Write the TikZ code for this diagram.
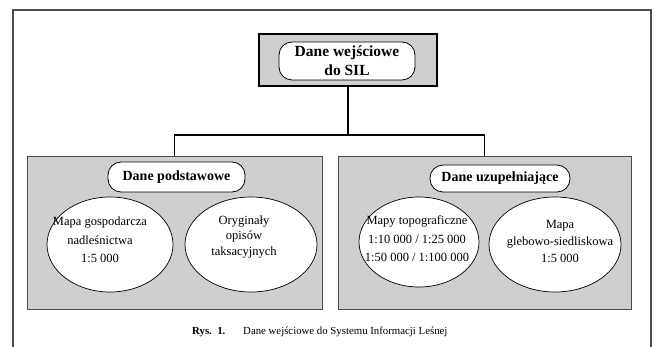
\documentclass[tikz,border=0pt]{standalone}
\usepackage{fontspec}
\setmainfont{Liberation Serif}
\usetikzlibrary{shapes.geometric}
\usetikzlibrary{positioning}
\definecolor{boxgray}{gray}{0.81}
\definecolor{framegray}{gray}{0.3}

\begin{document}
\begin{tikzpicture}[x=1pt,y=-1pt,
    panel/.style={draw=framegray, line width=0.9pt, fill=boxgray, inner sep=0pt},
    pill/.style={draw, line width=0.8pt, fill=white, rounded corners=13pt, align=center, inner sep=0pt,
        font=\fontsize{14}{19}\selectfont\bfseries},
    oval/.style={draw, ellipse, line width=0.7pt, fill=white, inner sep=0pt},
    txt/.style={align=center, inner sep=0pt},
    link/.style={line width=1.8pt}]
    \useasboundingbox (0,0) rectangle (656,347);

    % Outer frame (open at the bottom)
    \draw[framegray, line width=1.2pt] (13,347) -- (13,10) -- (651,10) -- (651,347);

    % Top box
    \node[panel, draw=black, line width=2.4pt, minimum width=178, minimum height=52] (inputs) at (348,60) {};
    \node[pill, minimum width=136, minimum height=38, font=\fontsize{15.5}{19}\selectfont\bfseries] (inputsLabel) at (347,61) {Dane wejściowe\\do SIL};

    % Lower boxes
    \node[panel, minimum width=295, minimum height=153] (basic) at (174.5,232.5) {};
    \node[panel, minimum width=293, minimum height=153] (extra) at (484.5,232.5) {};

    % Connectors
    \coordinate (split) at (348,135);
    \draw[link] (inputs.south) -- (split);
    \draw[link] (basic.north) |- (split) -| (extra.north);

    % Basic data
    \node[pill, minimum width=137, minimum height=30] (basicLabel) at (176.5,177) {Dane podstawowe};
    \node[oval, minimum width=126, minimum height=95] (mapGosp) at (110,244.5) {};
    \node[oval, minimum width=132, minimum height=95] (descr) at (251,244.5) {};
    \node[txt, font=\fontsize{12.5}{18.5}\selectfont] (mapGospText) at (100,240) {Mapa gospodarcza\\nadleśnictwa\\1:5 000};
    \node[txt, font=\fontsize{12.5}{15.5}\selectfont] (descrText) at (244,237) {Oryginały\\opisów\\taksacyjnych};

    % Supplementary data
    \node[pill, minimum width=140, minimum height=27] (extraLabel) at (500,178.5) {Dane uzupełniające};
    \node[oval, minimum width=120, minimum height=90] (mapTopo) at (419,242) {};
    \node[oval, minimum width=132, minimum height=95] (mapSoil) at (555,244.5) {};
    \node[txt, font=\fontsize{12.5}{18.5}\selectfont] (mapTopoText) at (417,239) {Mapy topograficzne\\1:10 000 / 1:25 000\\1:50 000 / 1:100 000};
    \node[txt, font=\fontsize{12.5}{17}\selectfont] (mapSoilText) at (560,241) {Mapa\\glebowo-siedliskowa\\1:5 000};

    % Caption
    \node[txt, anchor=west, font=\fontsize{10.8}{13}\selectfont\bfseries] (capLabel) at (192,332) {Rys.\ \ 1.};
    \node[txt, anchor=west, font=\fontsize{10.8}{13}\selectfont] (capText) at (243,332) {Dane wejściowe do Systemu Informacji Leśnej};
\end{tikzpicture}
\end{document}
